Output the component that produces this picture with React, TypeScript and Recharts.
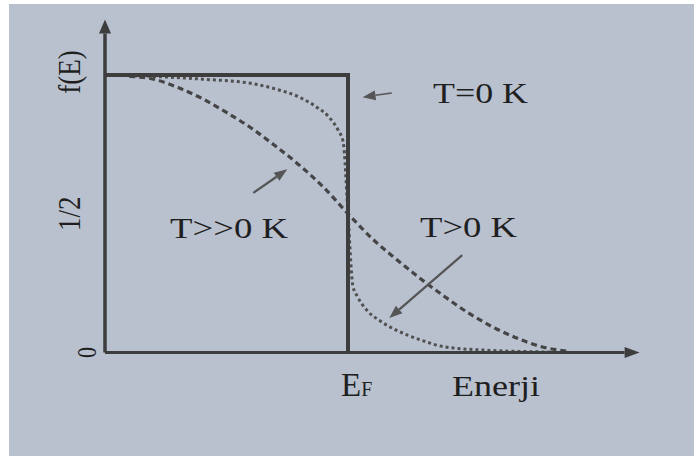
import { LineChart, Line, XAxis, YAxis, ReferenceLine } from 'recharts';

// Fermi–Dirac occupation f(E), energy in units of E_F
const ZERO_E = [0, 1, 1];
const ZERO_F = [1, 1, 0];

const WARM_E = [0, 0.2, 0.4, 0.6, 0.7, 0.8, 0.87, 0.92, 0.96, 0.98, 1.0, 1.02, 1.04, 1.08, 1.13, 1.2, 1.3, 1.4, 1.6, 1.8, 1.9];
const WARM_F = [1.0, 0.995, 0.985, 0.97, 0.95, 0.92, 0.885, 0.85, 0.8, 0.76, 0.5, 0.24, 0.2, 0.15, 0.115, 0.08, 0.045, 0.02, 0.007, 0.002, 0];

const HOT_E = [0.1, 0.2, 0.3, 0.4, 0.5, 0.6, 0.7, 0.8, 0.9, 1.0, 1.1, 1.2, 1.3, 1.4, 1.5, 1.6, 1.7, 1.8, 1.9];
const HOT_F = [0.995, 0.985, 0.955, 0.915, 0.865, 0.81, 0.745, 0.675, 0.595, 0.5, 0.41, 0.335, 0.265, 0.2, 0.14, 0.09, 0.05, 0.02, 0.005];

const Y_TICKS = [0, 0.5];
const Y_TICK_LABELS = ['0', '1/2'];
const X_TICKS = [1];

// pointer arrows: tail -> head, in (E, f)
const POINTER_TAIL_E = [1.18, 0.61, 1.47];
const POINTER_TAIL_F = [0.935, 0.575, 0.351];
const POINTER_HEAD_E = [1.06, 0.75, 1.17];
const POINTER_HEAD_F = [0.92, 0.66, 0.124];

const E_MAX = 2.2;
const F_MAX = 1.2;

const toPoints = (es: number[], fs: number[]) => es.map((E, i) => ({ E, f: fs[i] }));

const zeroK = toPoints(ZERO_E, ZERO_F);
const warm = toPoints(WARM_E, WARM_F);
const hot = toPoints(HOT_E, HOT_F);

const INK = '#1f1f1f';
const LINE = '#3d3d3d';
const FONT = '"Liberation Serif", "DejaVu Serif", serif';

function arrowShape(color: string, width: number, headLen: number, headHalf: number) {
  return (props: any) => {
    const { x1, y1, x2, y2 } = props;
    const a = Math.atan2(y2 - y1, x2 - x1);
    const bx = x2 - headLen * Math.cos(a);
    const by = y2 - headLen * Math.sin(a);
    const nx = -Math.sin(a) * headHalf;
    const ny = Math.cos(a) * headHalf;
    return (
      <g>
        <line x1={x1} y1={y1} x2={bx} y2={by} stroke={color} strokeWidth={width} />
        <polygon points={`${x2},${y2} ${bx + nx},${by + ny} ${bx - nx},${by - ny}`} fill={color} />
      </g>
    );
  };
}

function YTick(props: any) {
  const { x, y, payload } = props;
  const i = Y_TICKS.indexOf(payload.value);
  const label = Y_TICK_LABELS[i];
  const bx = payload.value === 0 ? x - 1 : x - 17;
  return (
    <text
      transform={`translate(${bx},${y}) scale(1.2,1) rotate(-90)`}
      textAnchor="middle"
      fontFamily={FONT}
      fontSize={payload.value === 0 ? 22 : 27}
      fill={INK}
    >
      {label}
    </text>
  );
}

function XTick(props: any) {
  const { x, y } = props;
  return (
    <text x={x - 7} y={y + 35} fontFamily={FONT} fontSize={33} fill={INK}>
      E<tspan fontSize={20}>F</tspan>
    </text>
  );
}

export default function App() {
  return (
    <div style={{ position: 'absolute', left: 0, top: 0, width: 694, height: 460, background: '#ffffff' }}>
      <div style={{ position: 'absolute', left: 9, top: 4, width: 685, height: 452, background: '#b9c1cf' }} />
      <div style={{ position: 'absolute', left: 0, top: 0 }}>
        <LineChart width={694} height={460} margin={{ top: 19.5, right: 54.4, bottom: 57.5, left: 45 }}>
          <XAxis
            type="number"
            dataKey="E"
            domain={[0, E_MAX]}
            ticks={X_TICKS}
            axisLine={false}
            tickLine={false}
            tick={<XTick />}
            height={50}
            allowDataOverflow
          />
          <YAxis
            type="number"
            dataKey="f"
            domain={[0, F_MAX]}
            ticks={Y_TICKS}
            axisLine={false}
            tickLine={false}
            tick={<YTick />}
            width={60}
            allowDataOverflow
          />
          <Line data={warm} dataKey="f" type="monotone" stroke="#505050" strokeWidth={3} strokeDasharray="3 3" dot={false} isAnimationActive={false} />
          <Line data={hot} dataKey="f" type="monotone" stroke="#454545" strokeWidth={3.2} strokeDasharray="6 4" dot={false} isAnimationActive={false} />
          <Line data={zeroK} dataKey="f" type="linear" stroke={LINE} strokeWidth={4} dot={false} isAnimationActive={false} />
          {/* axes with arrowheads */}
          <ReferenceLine
            segment={[{ x: 0, y: 0 }, { x: 0, y: F_MAX }]}
            ifOverflow="visible"
            shape={arrowShape(LINE, 3.5, 14, 6)}
          />
          <ReferenceLine
            segment={[{ x: 0, y: 0 }, { x: E_MAX, y: 0 }]}
            ifOverflow="visible"
            shape={arrowShape(LINE, 3, 15, 5.5)}
          />
          {POINTER_TAIL_E.map((e, i) => (
            <ReferenceLine
              key={i}
              segment={[
                { x: e, y: POINTER_TAIL_F[i] },
                { x: POINTER_HEAD_E[i], y: POINTER_HEAD_F[i] },
              ]}
              ifOverflow="visible"
              shape={arrowShape('#555', i === 0 ? 1.5 : 2.2, 13, 5)}
            />
          ))}
        </LineChart>
      </div>
      <svg width={694} height={460} style={{ position: 'absolute', left: 0, top: 0, pointerEvents: 'none' }}>
        <g fontFamily={FONT} fill={INK} fontSize={30}>
          <text x={433} y={103} textLength={95} lengthAdjust="spacingAndGlyphs">T=0 K</text>
          <text x={170} y={238} textLength={118} lengthAdjust="spacingAndGlyphs">T&gt;&gt;0 K</text>
          <text x={420} y={237} textLength={97} lengthAdjust="spacingAndGlyphs">T&gt;0 K</text>
          <text x={452} y={396} textLength={88} lengthAdjust="spacingAndGlyphs">Enerji</text>
          <text transform="translate(80,72) scale(1.2,1) rotate(-90)" textAnchor="middle" fontSize={27}>f(E)</text>
        </g>
      </svg>
    </div>
  );
}
